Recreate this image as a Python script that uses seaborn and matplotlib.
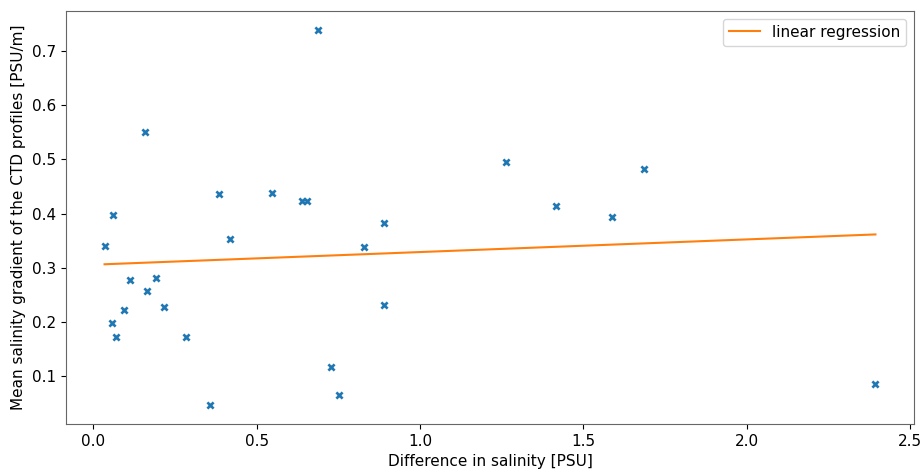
import numpy as np
import pandas as pd
import matplotlib
matplotlib.use("Agg")
import matplotlib.pyplot as plt
import seaborn as sns

# Data
salinity_diff = [0.034, 0.061, 0.057, 0.068, 0.093, 0.111, 0.164, 0.159, 0.193, 0.217,
                 0.284, 0.358, 0.385, 0.417, 0.547, 0.639, 0.654, 0.688, 0.727, 0.751,
                 0.828, 0.889, 0.888, 1.263, 1.416, 1.589, 1.686, 2.394]
mean_gradient = [0.340, 0.397, 0.199, 0.172, 0.222, 0.278, 0.257, 0.550, 0.281, 0.228,
                 0.173, 0.047, 0.436, 0.354, 0.439, 0.423, 0.423, 0.739, 0.117, 0.066,
                 0.339, 0.382, 0.232, 0.496, 0.414, 0.393, 0.483, 0.087]
reg_slope = 0.0233
reg_intercept = 0.306

df = pd.DataFrame({"x": salinity_diff, "y": mean_gradient})
x_sorted = np.sort(np.array(salinity_diff))
reg_df = pd.DataFrame({"x": x_sorted, "y": reg_intercept + reg_slope * x_sorted})

plt.rcParams["font.family"] = ["DejaVu Sans"]
fig = plt.figure(figsize=(9.22, 4.70), dpi=100)
ax = fig.add_axes([0.0716, 0.0979, 0.9197, 0.8787])

sns.scatterplot(data=df, x="x", y="y", ax=ax, marker="x", color="#1f77b4",
                s=20, linewidth=1.9, legend=False)
sns.lineplot(data=reg_df, x="x", y="y", ax=ax, color="#ff7f0e", linewidth=1.5,
             label="linear regression", sort=False)

ax.set_xlabel("Difference in salinity [PSU]", fontsize=11, labelpad=4)
ax.set_ylabel("Mean salinity gradient of the CTD profiles [PSU/m]", fontsize=11)
ax.tick_params(labelsize=11)
ax.set_xticks([0.0, 0.5, 1.0, 1.5, 2.0, 2.5])
ax.set_yticks([0.1, 0.2, 0.3, 0.4, 0.5, 0.6, 0.7])
ax.legend(loc="upper right", fontsize=11)
for sp in ax.spines.values():
    sp.set_color("#666666")

fig.savefig("out.png", dpi=100)
